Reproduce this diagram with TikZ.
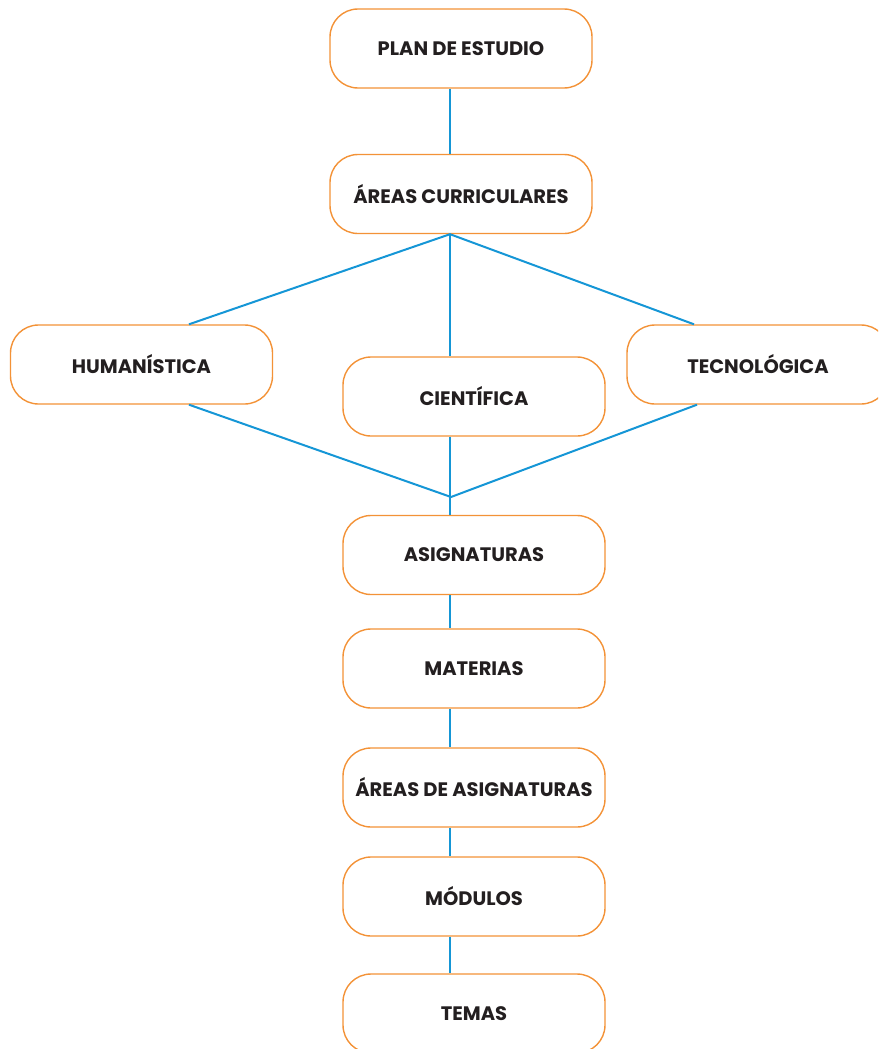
\documentclass[tikz,border=0pt]{standalone}
\usepackage{fontspec}
\setmainfont{Poppins}
\definecolor{boxorange}{HTML}{F39237}
\definecolor{lineblue}{HTML}{1596D6}
\definecolor{txt}{HTML}{231F20}
\tikzset{
  box/.style={draw=boxorange, line width=1.4pt, rounded corners=28pt, fill=white,
    minimum width=262pt, minimum height=79pt, inner sep=0pt,
    font=\fontsize{19.5pt}{22pt}\selectfont\bfseries, text=txt},
  conn/.style={draw=lineblue, line width=2pt}
}
\begin{document}
\begin{tikzpicture}[x=1pt,y=-1pt]
\useasboundingbox (0,0) rectangle (878,1049);
\clip (0,0) rectangle (878,1049);
\coordinate (vx) at (450,0);
\coordinate (hx) at (189,0);
\coordinate (tx) at (694,0);
\coordinate (J) at (451,497);
\node[box] (plan) at (461,48.5) {PLAN DE ESTUDIO};
\node[box] (areas) at (461,194) {ÁREAS CURRICULARES};
\node[box] (hum) at (141.5,364.5) {HUMANÍSTICA};
\node[box] (tec) at (758,364.5) {TECNOLÓGICA};
\node[box] (cien) at (474,396.5) {CIENTÍFICA};
\node[box] (asig) at (474,555) {ASIGNATURAS};
\node[box] (mat) at (474,668.5) {MATERIAS};
\node[box] (aasig) at (474,787.5) {ÁREAS DE ASIGNATURAS};
\node[box] (mod) at (474,896.5) {MÓDULOS};
\node[box] (temas) at (474,1013.5) {TEMAS};
\coordinate (apex) at (areas.south -| vx);
\draw[conn] (plan.south -| vx) -- (areas.north -| vx);
\draw[conn] (hum.north -| hx) -- (apex) -- (tec.north -| tx);
\draw[conn] (apex) -- (cien.north -| vx);
\draw[conn] (hum.south -| hx) -- (J) -- ([xshift=3pt]tec.south -| tx);
\draw[conn] (cien.south -| vx) -- (asig.north -| vx);
\draw[conn] (asig.south -| vx) -- (mat.north -| vx);
\draw[conn] (mat.south -| vx) -- (aasig.north -| vx);
\draw[conn] (aasig.south -| vx) -- (mod.north -| vx);
\draw[conn] (mod.south -| vx) -- (temas.north -| vx);
\end{tikzpicture}
\end{document}
